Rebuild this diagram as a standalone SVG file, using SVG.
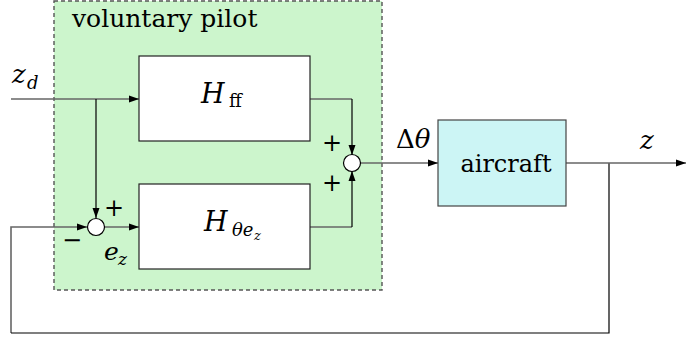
<svg xmlns="http://www.w3.org/2000/svg" width="686" height="337" viewBox="0 0 686 337">
<defs>
<marker id="ah" viewBox="0 0 10 10" refX="10" refY="5" markerWidth="10" markerHeight="10" markerUnits="userSpaceOnUse" orient="auto">
<path d="M0,1.5 L10,5 L0,8.5 Z" fill="#000"/>
</marker>
<style>
text{fill:#000;font-family:"DejaVu Serif",serif}
.m{font-style:italic}
.g{fill:none;stroke:#666;stroke-width:1.6}
.k{fill:none;stroke:#000;stroke-width:1.2}
.box{fill:#fff;stroke:#222;stroke-width:1.2}
.sum{fill:#fff;stroke:#000;stroke-width:1.2}
</style>
</defs>
<g id="pilot">
<rect x="54" y="1" width="328" height="289" fill="#ccf5cc" stroke="#555" stroke-width="1.4" stroke-dasharray="4,3"/>
<text x="72" y="27" font-size="25">voluntary pilot</text>
</g>
<g id="connectors">
<path class="g" d="M11,99 H139" marker-end="url(#ah)"/>
<path class="k" d="M96,99 V218" marker-end="url(#ah)"/>
<path class="g" d="M11,333 V227 H87" marker-end="url(#ah)"/>
<path class="k" d="M11,333 H609 V163"/>
<path class="g" d="M105,227 H139" marker-end="url(#ah)"/>
<path class="g" d="M310,99 H352"/>
<path class="k" d="M352,99 V155" marker-end="url(#ah)"/>
<path class="g" d="M310,227 H352"/>
<path class="k" d="M352,227 V171" marker-end="url(#ah)"/>
<path class="g" d="M360,163 H438" marker-end="url(#ah)"/>
<path class="g" d="M566,163 H686" marker-end="url(#ah)"/>
</g>
<g id="Hff">
<rect class="box" x="139" y="56" width="171" height="85"/>
<text class="m" x="201" y="103" font-size="27">H</text>
<text x="229" y="107" font-size="18">ff</text>
</g>
<g id="Hthetaez">
<rect class="box" x="139" y="184" width="171" height="85"/>
<text class="m" x="204" y="231" font-size="27">H</text>
<text class="m" x="232" y="236" font-size="18">θe</text>
<text class="m" x="254" y="240" font-size="13">z</text>
</g>
<g id="sum1">
<circle class="sum" cx="96" cy="227" r="8.5"/>
<text x="104" y="216" font-size="24">+</text>
<text x="62" y="248" font-size="24">−</text>
<text class="m" x="104" y="260" font-size="25">e</text>
<text class="m" x="118" y="265" font-size="17">z</text>
</g>
<g id="sum2">
<circle class="sum" cx="352" cy="163" r="8.5"/>
<text x="322" y="151" font-size="24">+</text>
<text x="322" y="191" font-size="24">+</text>
</g>
<g id="aircraft">
<rect x="438" y="120" width="128" height="86" fill="#ccf5f5" stroke="#444" stroke-width="1.2"/>
<text x="506" y="172" font-size="24" text-anchor="middle">aircraft</text>
</g>
<g id="labels">
<text class="m" x="12" y="83" font-size="26">z</text>
<text class="m" x="27" y="89" font-size="18">d</text>
<text x="396" y="148" font-size="26">Δ<tspan class="m">θ</tspan></text>
<text class="m" x="640" y="149" font-size="26">z</text>
</g>
</svg>
